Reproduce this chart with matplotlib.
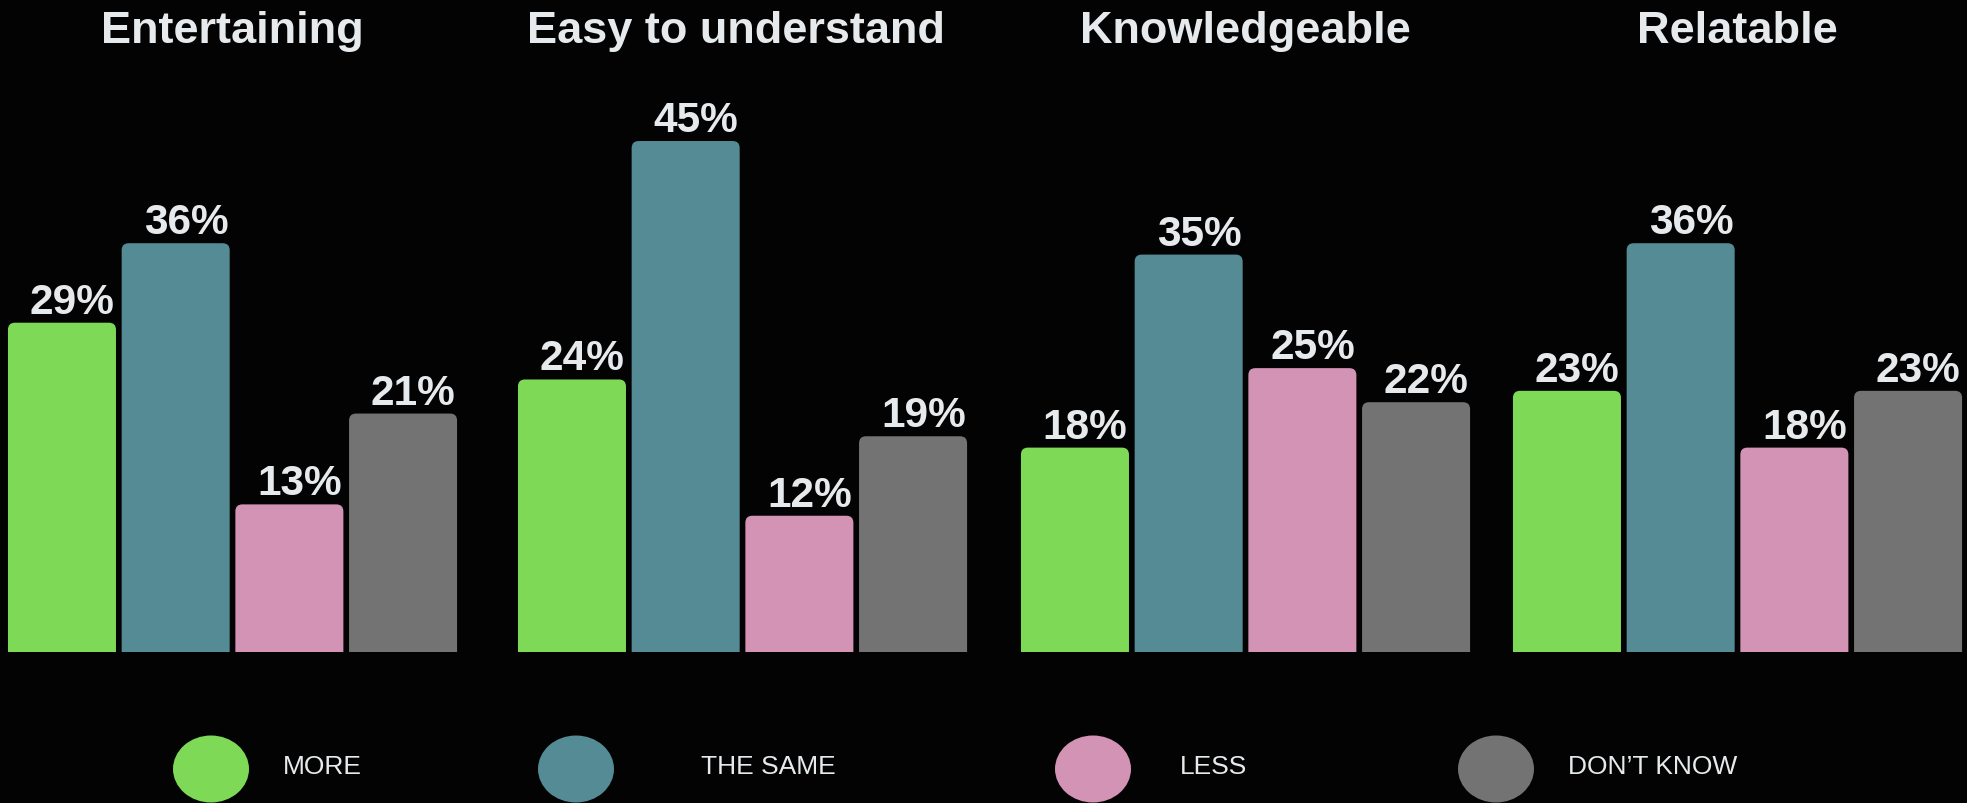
import matplotlib
matplotlib.use("Agg")
import matplotlib.pyplot as plt
import matplotlib.patches as mpatches
import numpy as np

plt.rcParams['font.family'] = ['Liberation Sans', 'DejaVu Sans']

# data
groups = ["Entertaining", "Easy to understand", "Knowledgeable", "Relatable"]
answers = ["MORE", "THE SAME", "LESS", "DON\u2019T KNOW"]
more = [29, 24, 18, 23]
same = [36, 45, 35, 36]
less = [13, 12, 25, 18]
dont_know = [21, 19, 22, 23]

colors = ["#7ED957", "#548B94", "#D393B5", "#737374"]
bg = "#030303"
txt = "#E6EAEC"

W, H = 1967, 804
fig = plt.figure(figsize=(W / 100, H / 100), dpi=100, facecolor=bg)
ax = fig.add_axes([0, 0, 1, 1])
ax.set_facecolor(bg)
ax.axis("off")

# layout (pixels -> data units)
bar_pitch_px = 113.7
px_per_pct = 11.355
base_px = 151  # baseline from bottom
bar_w = 0.95
x0 = -0.545
ax.set_xlim(x0, x0 + W / bar_pitch_px)
ax.set_ylim(-base_px / px_per_pct, (H - base_px) / px_per_pct)

series = [more, same, less, dont_know]
xg = np.array([0, 510, 1013, 1505]) / bar_pitch_px  # group offsets
title_dx = [0, -0.06, 0, 0]
clip = mpatches.Rectangle((x0, 0), W / bar_pitch_px, 100, transform=ax.transData)

for j, vals in enumerate(series):
    bars = ax.bar(xg + j, vals, width=bar_w, color=colors[j])
    for b, v in zip(bars, vals):
        x, w, h = b.get_x(), b.get_width(), b.get_height()
        b.remove()
        r = 7 / bar_pitch_px
        p = mpatches.FancyBboxPatch((x, -1), w, h + 1,
                                    boxstyle=f"round,pad=0,rounding_size={r}",
                                    mutation_aspect=bar_pitch_px / px_per_pct,
                                    fc=colors[j], ec="none")
        ax.add_patch(p)
        p.set_clip_path(clip)
        ax.text(x + w / 2 + 0.09, h + 10 / px_per_pct, f"{v}%", ha="center", va="baseline",
                fontsize=30.5, fontweight="bold", color=txt)

for g, name in enumerate(groups):
    ax.text(xg[g] + 1.5 + title_dx[g], (H - base_px - 43) / px_per_pct, name,
            ha="center", va="baseline", fontsize=32.5, fontweight="bold", color=txt)

# legend
leg_cx = [211, 576, 1093, 1496]
leg_tx = [283, 701, 1180, 1568]
for j, lab in enumerate(answers):
    e = mpatches.Ellipse((leg_cx[j] / W, 1 - 770 / H), 76 / W, 67 / H,
                         transform=fig.transFigure, fc=colors[j], ec="none")
    fig.patches.append(e)
    fig.text(leg_tx[j] / W, 1 - 767 / H, lab, ha="left", va="center",
             fontsize=19, color=txt)

fig.savefig("out.png", dpi=100, facecolor=bg)
